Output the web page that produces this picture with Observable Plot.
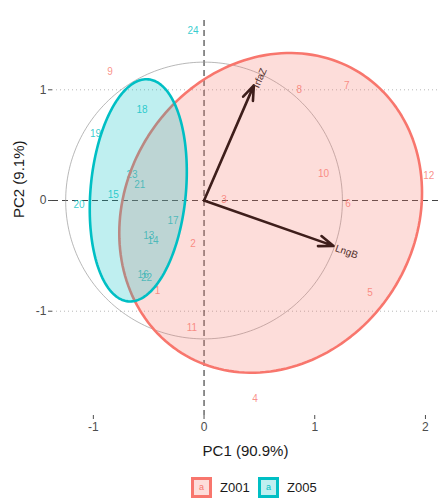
<!DOCTYPE html>
<html>
<head>
<meta charset="utf-8">
<script src="https://cdn.jsdelivr.net/npm/d3@7"></script>
<script src="https://cdn.jsdelivr.net/npm/@observablehq/plot@0.6"></script>
<style>
  html, body { margin: 0; padding: 0; background: #fff; }
  #wrap { position: relative; width: 438px; height: 504px; font-family: "Liberation Sans", Arial, sans-serif; }
  #legend { position: absolute; left: 0; top: 472px; width: 438px; height: 32px; }
  .key { position: absolute; top: 5px; width: 15px; height: 15px; border: 3px solid; font-size: 9px; text-align: center; line-height: 15px; }
  .lab { position: absolute; top: 5px; height: 21px; line-height: 21px; font-size: 13px; color: #1a1a1a; }
</style>
</head>
<body>
<div id="wrap">
  <div id="chart"></div>
  <div id="legend"></div>
</div>
<script>
// Individuals (PCA scores) and their group
const ids = ["1","2","3","4","5","6","7","8","9","10","11","12",
             "13","14","15","16","17","18","19","20","21","22","23","24"];
const groups = ["Z001","Z001","Z001","Z001","Z001","Z001","Z001","Z001","Z001","Z001","Z001","Z001",
                "Z005","Z005","Z005","Z005","Z005","Z005","Z005","Z005","Z005","Z005","Z005","Z005"];
const pc1 = [-0.42, -0.10, 0.18, 0.46, 1.50, 1.30, 1.29, 0.86, -0.85, 1.08, -0.11, 2.03,
             -0.50, -0.46, -0.82, -0.55, -0.28, -0.56, -0.98, -1.13, -0.58, -0.52, -0.65, -0.10];
const pc2 = [-0.82, -0.39, 0.01, -1.79, -0.83, -0.03, 1.04, 1.00, 1.16, 0.24, -1.15, 0.22,
             -0.32, -0.36, 0.05, -0.67, -0.18, 0.82, 0.60, -0.04, 0.14, -0.70, 0.23, 1.53];

// Variables (loadings drawn as arrows)
const varNames = ["IrfaZ", "LngB"];
const varX = [0.45, 1.17];
const varY = [1.04, -0.41];

const groupNames = ["Z001", "Z005"];
const groupColors = ["#F8766D", "#00BFC4"];
const xTicks = [-1, 0, 1, 2];
const yTicks = [-1, 0, 1];
const xTitle = "PC1 (90.9%)";
const yTitle = "PC2 (9.1%)";
const circleRadius = 1.25;   // reference circle around the origin
const ellipseScale = 1.56;   // radius of the concentration ellipse in SDs

const font = "'Liberation Sans', Arial, sans-serif";
const colorOf = g => groupColors[groupNames.indexOf(g)];

const inds = ids.map((id, i) => ({id, group: groups[i], x: pc1[i], y: pc2[i]}));
const vars = varNames.map((name, i) => ({name, x: varX[i], y: varY[i],
  angle: -Math.atan2(varY[i], varX[i]) * 180 / Math.PI}));

// Concentration ellipse from each group's mean and sample covariance
function ellipseOf(group) {
  const pts = inds.filter(d => d.group === group);
  const n = pts.length;
  const mx = d3.mean(pts, d => d.x), my = d3.mean(pts, d => d.y);
  const sxx = d3.sum(pts, d => (d.x - mx) ** 2) / (n - 1);
  const syy = d3.sum(pts, d => (d.y - my) ** 2) / (n - 1);
  const sxy = d3.sum(pts, d => (d.x - mx) * (d.y - my)) / (n - 1);
  const a = Math.sqrt(sxx), b = sxy / a, c = Math.sqrt(syy - b * b);
  return d3.range(0, 2 * Math.PI, Math.PI / 90).map(t => ({
    group,
    x: mx + ellipseScale * a * Math.cos(t),
    y: my + ellipseScale * (b * Math.cos(t) + c * Math.sin(t))
  }));
}

const circle = d3.range(0, 2 * Math.PI, Math.PI / 120).map(t => ({
  x: circleRadius * Math.cos(t), y: circleRadius * Math.sin(t)
}));

const ellipseMarks = groupNames.map((g, i) =>
  Plot.line(ellipseOf(g), {x: "x", y: "y", curve: "linear-closed",
    fill: groupColors[i], fillOpacity: 0.25, stroke: groupColors[i], strokeWidth: 2.6})
);

const chart = Plot.plot({
  width: 438,
  height: 472,
  marginLeft: 52,
  marginRight: 0,
  marginTop: 20,
  marginBottom: 57,
  x: {domain: [-1.369, 2.118]},
  y: {domain: [-1.942, 1.626]},
  style: {fontFamily: font, background: "white"},
  marks: [
    Plot.ruleY([-1, 1], {stroke: "#b8b8b8", strokeWidth: 1, strokeDasharray: "1,3"}),
    Plot.ruleY([0], {stroke: "#444", strokeWidth: 1.2, strokeDasharray: "6,4"}),
    Plot.ruleX([0], {stroke: "#444", strokeWidth: 1.2, strokeDasharray: "6,4"}),
    Plot.line(circle, {x: "x", y: "y", curve: "linear-closed", stroke: "#9a9a9a", strokeWidth: 0.7}),
    Plot.text(inds, {x: "x", y: "y", text: "id", fill: d => colorOf(d.group),
      fillOpacity: 0.8, fontSize: 10}),
    Plot.arrow(vars, {x1: 0, y1: 0, x2: "x", y2: "y", stroke: "#000",
      strokeWidth: 2.6, headLength: 9, headAngle: 40}),
    Plot.text(vars, {x: "x", y: "y", text: "name", rotate: "angle", textAnchor: "start",
      dx: 2, dy: 2, fill: "#111", fontSize: 10}),
    ...ellipseMarks,
    Plot.axisX({ticks: xTicks, tickFormat: d => String(d), tickSize: 4, tickPadding: 3,
      fontSize: 12, color: "#4d4d4d", label: null}),
    Plot.axisY({ticks: yTicks, tickFormat: d => String(d), tickSize: 4, tickPadding: 2,
      fontSize: 12, color: "#4d4d4d", label: null}),
    Plot.text([xTitle], {frameAnchor: "bottom", dy: 36, text: d => d, fontSize: 15,
      fill: "#1a1a1a", lineAnchor: "middle"}),
    Plot.text([yTitle], {frameAnchor: "left", dx: -33, text: d => d, rotate: -90, fontSize: 15,
      fill: "#1a1a1a", lineAnchor: "middle"})
  ]
});
document.getElementById("chart").appendChild(chart);

// Legend: keyed boxes below the chart
const legend = d3.select("#legend");
const keyLeft = [191, 258];
groupNames.forEach((g, i) => {
  const col = d3.color(groupColors[i]);
  const fill = d3.color(groupColors[i]); fill.opacity = 0.25;
  legend.append("div").attr("class", "key")
    .style("left", keyLeft[i] + "px")
    .style("border-color", col.formatHex())
    .style("background", fill.formatRgb())
    .style("color", col.formatHex())
    .text("a");
  legend.append("div").attr("class", "lab")
    .style("left", (keyLeft[i] + 29) + "px")
    .text(g);
});
</script>
</body>
</html>
